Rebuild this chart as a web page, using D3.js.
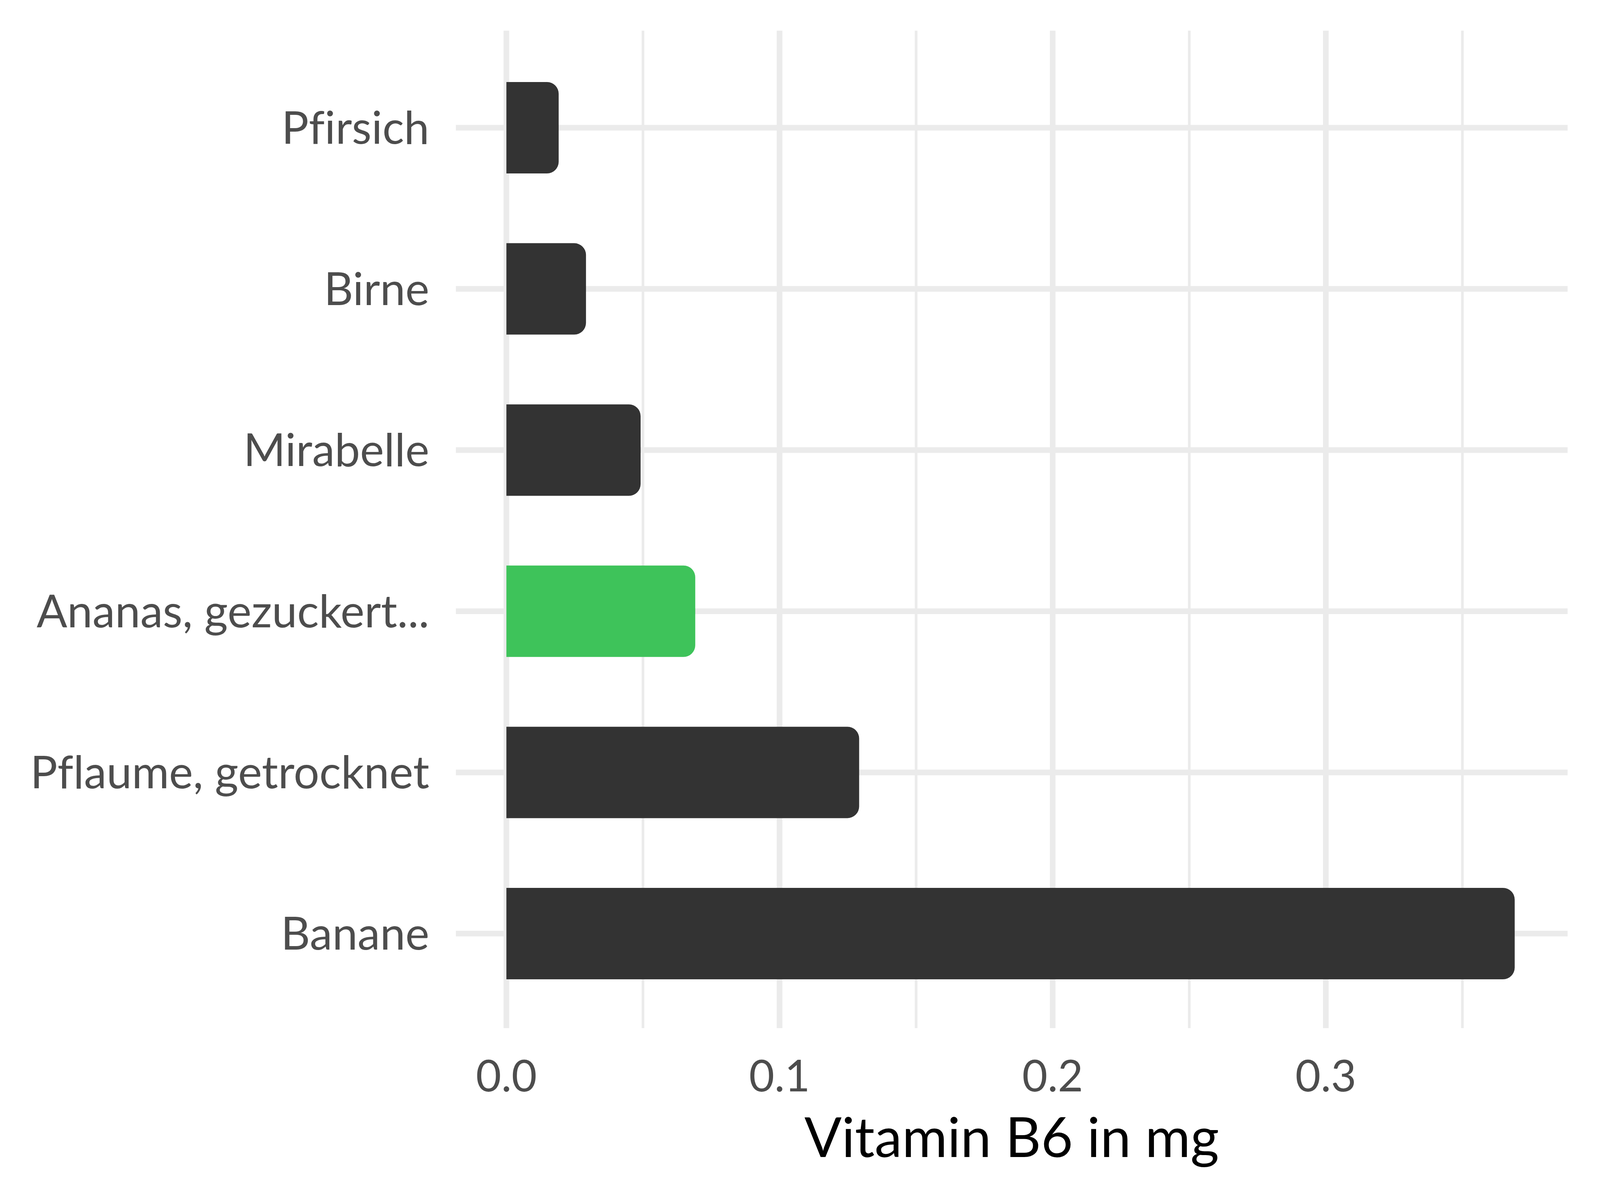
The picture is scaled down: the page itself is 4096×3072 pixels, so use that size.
<!DOCTYPE html>
<html>
<head>
<meta charset="utf-8">
<script src="https://cdn.jsdelivr.net/npm/d3@7"></script>
<style>
  html, body { margin: 0; padding: 0; background: #ffffff; }
  svg { display: block; }
  text { font-variant-ligatures: none; font-feature-settings: "liga" 0; }
</style>
</head>
<body>
<script>
const categories = ["Pfirsich", "Birne", "Mirabelle", "Ananas, gezuckert...", "Pflaume, getrocknet", "Banane"];
const values = [0.02, 0.03, 0.05, 0.07, 0.13, 0.37];
const highlight = [false, false, false, true, false, false];
const majorTicks = [0.0, 0.1, 0.2, 0.3];
const minorTicks = [0.05, 0.15, 0.25, 0.35];
const tickLabels = ["0.0", "0.1", "0.2", "0.3"];
const xTitle = "Vitamin B6 in mg";

const W = 4096, H = 3072;
const panel = { left: 1167, right: 4013, top: 78.5, bottom: 2632 };
const font = "Lato, 'Open Sans', sans-serif";

const svg = d3.select("body").append("svg").attr("width", W).attr("height", H);
svg.append("rect").attr("width", W).attr("height", H).attr("fill", "#ffffff");

const x = d3.scaleLinear().domain([-0.0185, 0.3885]).range([panel.left, panel.right]);
const y = d3.scalePoint().domain(categories).range([327, 2390]);

const grid = svg.append("g");
grid.selectAll("line.minor").data(minorTicks).enter().append("line")
  .attr("x1", d => x(d)).attr("x2", d => x(d))
  .attr("y1", panel.top).attr("y2", panel.bottom)
  .attr("stroke", "#ebebeb").attr("stroke-width", 6.8);
grid.selectAll("line.major").data(majorTicks).enter().append("line")
  .attr("x1", d => x(d)).attr("x2", d => x(d))
  .attr("y1", panel.top).attr("y2", panel.bottom)
  .attr("stroke", "#ebebeb").attr("stroke-width", 14.5);
grid.selectAll("line.h").data(categories).enter().append("line")
  .attr("x1", panel.left).attr("x2", panel.right)
  .attr("y1", d => y(d)).attr("y2", d => y(d))
  .attr("stroke", "#ebebeb").attr("stroke-width", 14.5);

const barH = 234, r = 30;
function barPath(x0, x1, yc) {
  const t = yc - barH / 2, b = yc + barH / 2;
  const rr = Math.min(r, (x1 - x0));
  return `M${x0},${t} H${x1 - rr} A${rr},${rr} 0 0 1 ${x1},${t + rr} V${b - rr} A${rr},${rr} 0 0 1 ${x1 - rr},${b} H${x0} Z`;
}
const data = categories.map((c, i) => ({ c, v: values[i], h: highlight[i] }));
svg.append("g").selectAll("path").data(data).enter().append("path")
  .attr("d", d => barPath(x(0), x(d.v) - 6, y(d.c)))
  .attr("fill", d => d.h ? "#3ec35a" : "#333333");

svg.append("g").selectAll("text").data(categories).enter().append("text")
  .attr("x", 1099).attr("y", d => y(d) + 41)
  .attr("text-anchor", "end")
  .attr("font-family", font).attr("font-size", 116)
  .attr("fill", "#4d4d4d")
  .text(d => d);

svg.append("g").selectAll("text").data(majorTicks).enter().append("text")
  .attr("x", d => x(d)).attr("y", 2794)
  .attr("text-anchor", "middle")
  .attr("font-family", font).attr("font-size", 112)
  .attr("fill", "#4d4d4d")
  .text((d, i) => tickLabels[i]);

svg.append("text")
  .attr("x", (panel.left + panel.right) / 2).attr("y", 2962)
  .attr("text-anchor", "middle")
  .attr("font-family", font).attr("font-size", 141)
  .attr("fill", "#000000")
  .text(xTitle);
</script>
</body>
</html>
